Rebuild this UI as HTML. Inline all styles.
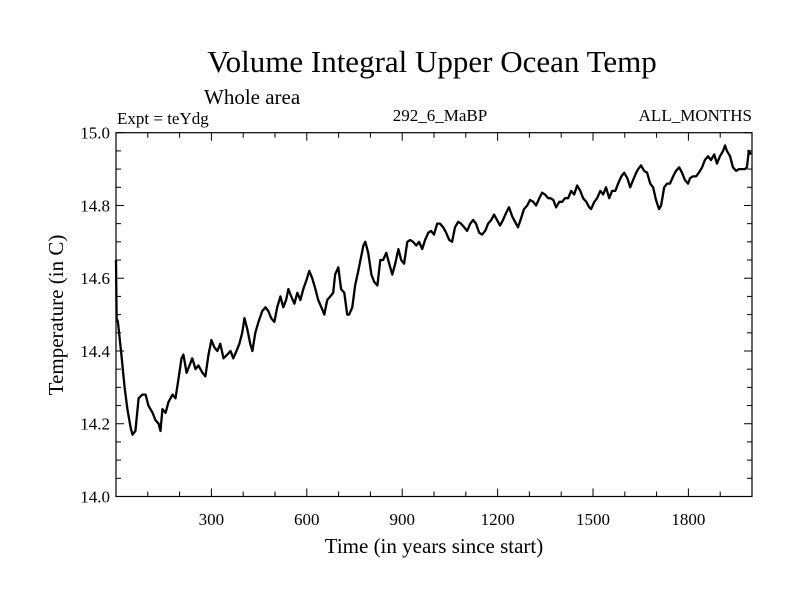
<!DOCTYPE html>
<html><head><meta charset="utf-8"><style>
html,body{margin:0;padding:0;background:#fff;}
svg text{font-family:"Liberation Serif",serif;fill:#000;}
</style></head><body>
<svg id="chart" width="800" height="600" viewBox="0 0 800 600">
<text x="432" y="72" font-size="31" text-anchor="middle">Volume Integral Upper Ocean Temp</text>
<text x="204" y="104" font-size="21">Whole area</text>
<text x="117" y="124" font-size="17">Expt = teYdg</text>
<text x="440" y="121" font-size="17" text-anchor="middle">292_6_MaBP</text>
<text x="752" y="121" font-size="17" text-anchor="end">ALL_MONTHS</text>
<text x="434" y="553" font-size="21" text-anchor="middle">Time (in years since start)</text>
<text transform="translate(63,315) rotate(-90)" font-size="21" text-anchor="middle">Temperature (in C)</text>
<g id="axes"></g>
<path id="series" fill="none" stroke="#000" stroke-width="2.3" stroke-linejoin="round"></path>
<rect x="116" y="132.7" width="636" height="363.8" fill="none" stroke="#000" stroke-width="1.2"/>
</svg>
<script>
const xTicks = [300, 600, 900, 1200, 1500, 1800];
const yTicks = [14.0, 14.2, 14.4, 14.6, 14.8, 15.0];
const yTickLabels = ["14.0", "14.2", "14.4", "14.6", "14.8", "15.0"];
const years = [0,2,6,17,27,36,46,52,61,71,83,93,102,115,124,134,140,146,156,165,178,187,196,206,212,222,231,240,250,259,272,281,291,300,309,319,328,338,350,360,369,379,388,397,404,413,422,429,438,448,460,470,479,488,498,507,517,526,535,542,551,561,570,580,589,599,608,617,627,636,646,655,664,674,683,689,699,708,718,727,733,743,752,762,771,778,784,793,803,812,822,831,840,850,859,869,878,888,897,906,916,925,934,944,953,963,972,982,991,1000,1010,1019,1029,1038,1048,1057,1066,1076,1085,1095,1104,1114,1123,1132,1142,1151,1161,1170,1180,1189,1198,1208,1217,1227,1236,1246,1255,1264,1274,1283,1293,1302,1312,1321,1331,1340,1349,1359,1366,1375,1384,1394,1403,1412,1422,1431,1441,1450,1460,1469,1479,1488,1494,1504,1513,1523,1532,1541,1551,1560,1570,1579,1589,1598,1608,1617,1626,1636,1642,1651,1661,1670,1680,1689,1698,1708,1714,1724,1733,1742,1752,1761,1771,1780,1789,1799,1805,1814,1824,1833,1843,1852,1862,1871,1881,1890,1899,1909,1915,1921,1931,1940,1950,1959,1968,1978,1984,1990,1997];
const temps = [14.65,14.49,14.48,14.39,14.30,14.24,14.19,14.17,14.18,14.27,14.28,14.28,14.25,14.23,14.21,14.20,14.18,14.24,14.23,14.26,14.28,14.27,14.32,14.38,14.39,14.34,14.36,14.38,14.35,14.36,14.34,14.33,14.39,14.43,14.41,14.40,14.42,14.38,14.39,14.40,14.38,14.40,14.42,14.45,14.49,14.46,14.42,14.40,14.45,14.48,14.51,14.52,14.51,14.49,14.48,14.52,14.55,14.52,14.54,14.57,14.55,14.53,14.56,14.54,14.57,14.595,14.62,14.60,14.57,14.54,14.52,14.50,14.54,14.55,14.56,14.61,14.63,14.57,14.56,14.50,14.50,14.52,14.58,14.62,14.66,14.69,14.70,14.67,14.61,14.59,14.58,14.65,14.65,14.67,14.64,14.61,14.64,14.68,14.65,14.64,14.70,14.705,14.70,14.69,14.70,14.68,14.705,14.725,14.73,14.72,14.75,14.75,14.74,14.725,14.705,14.70,14.74,14.755,14.75,14.74,14.73,14.75,14.76,14.75,14.725,14.72,14.73,14.75,14.76,14.775,14.76,14.745,14.76,14.78,14.795,14.77,14.755,14.74,14.765,14.79,14.80,14.815,14.81,14.80,14.82,14.835,14.83,14.82,14.82,14.815,14.795,14.81,14.81,14.82,14.82,14.84,14.83,14.855,14.84,14.82,14.81,14.795,14.79,14.81,14.82,14.84,14.83,14.85,14.82,14.84,14.84,14.86,14.88,14.89,14.875,14.85,14.87,14.89,14.90,14.91,14.895,14.89,14.86,14.85,14.815,14.79,14.80,14.85,14.86,14.86,14.88,14.895,14.905,14.89,14.87,14.86,14.875,14.88,14.88,14.89,14.905,14.925,14.935,14.925,14.94,14.915,14.935,14.95,14.965,14.95,14.935,14.905,14.895,14.90,14.90,14.90,14.905,14.95,14.94];

const L=116, R=752, T=132.7, B=496.5, XMIN=0, XMAX=2000, YMIN=14.0, YMAX=15.0;
function xs(v){return L+(v-XMIN)/(XMAX-XMIN)*(R-L);}
function ys(v){return B-(v-YMIN)/(YMAX-YMIN)*(B-T);}
const NS='http://www.w3.org/2000/svg';
const axes=document.getElementById('axes');
function line(x1,y1,x2,y2,name){
  const l=document.createElementNS(NS,'line');
  l.setAttribute('x1',x1);l.setAttribute('y1',y1);l.setAttribute('x2',x2);l.setAttribute('y2',y2);
  l.setAttribute('stroke','#000');l.setAttribute('stroke-width','1');
  
  
  axes.appendChild(l);
}
function text(x,y,s,anchor,name){
  const t=document.createElementNS(NS,'text');
  t.setAttribute('x',x);t.setAttribute('y',y);t.setAttribute('font-size','17');t.setAttribute('text-anchor',anchor);
  t.textContent=s;
  
  
  axes.appendChild(t);
}
for(let v=100; v<XMAX; v+=100){
  const x=xs(v); const major=v%300===0; const len=major?8:5;
  line(x,B,x,B-len,'x-tick');
  line(x,T,x,T+len,'x-tick-top');
}
xTicks.forEach(v=>text(xs(v),525,String(v),'middle','x-tick-label'));
for(let i=0;i<=20;i++){
  const v=YMIN+i*0.05; const y=ys(v); const major=i%4===0; const len=major?8:5;
  line(L,y,L+len,y,'y-tick');
  line(R,y,R-len,y,'y-tick-right');
}
yTicks.forEach((v,i)=>text(110,ys(v)+6,yTickLabels[i],'end','y-tick-label'));
let d='';
years.forEach((yr,i)=>{d+=(i?'L':'M')+xs(yr).toFixed(1)+','+ys(temps[i]).toFixed(1);});
document.getElementById('series').setAttribute('d',d);
</script>
</body></html>
